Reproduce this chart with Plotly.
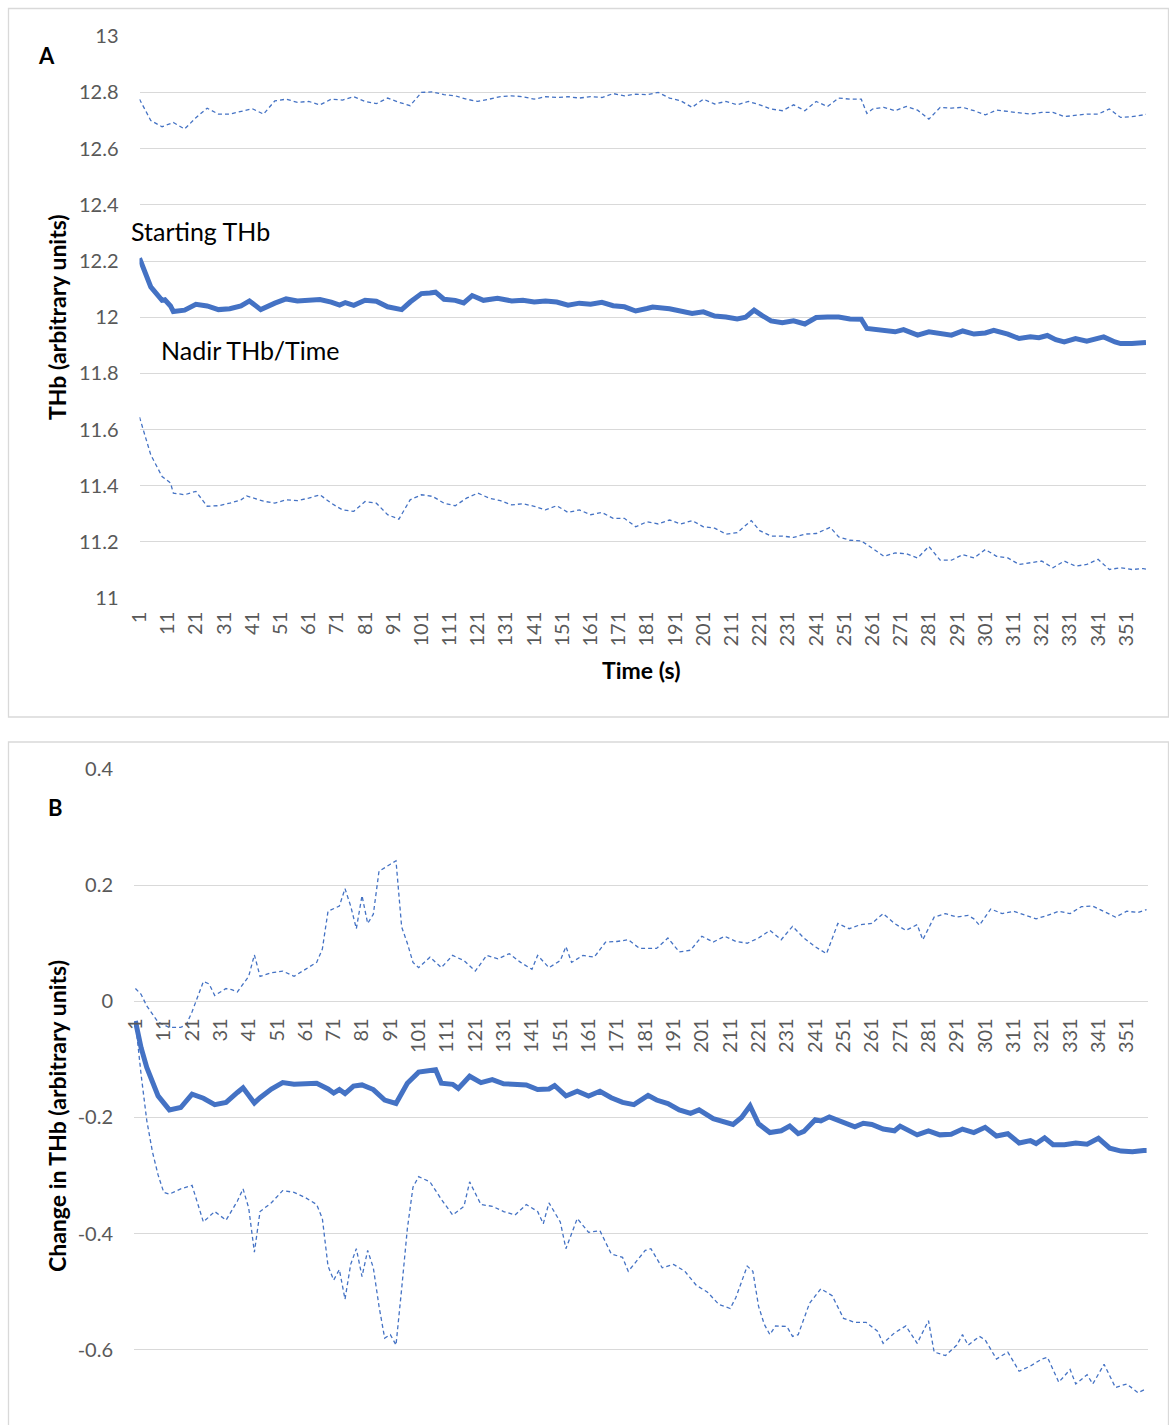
import plotly.graph_objects as go

W, H = 1169, 1425
FONT = "Lato"
BLUE = "#4472C4"
GRID = "#D9D9D9"
TICKC = "#595959"

# ---------------- data (time in s, value) ----------------
A_MAIN = [(1,12.21),(5,12.108),(9,12.06),(10,12.062),(12,12.04),(13,12.02),(17,12.025),(21,12.046),(25,12.04),(29,12.027),
          (33,12.03),(37,12.04),(40,12.058),(44,12.027),(49,12.05),(53,12.065),(57,12.058),(61,12.06),(65,12.063),(69,12.054),
          (72,12.043),(74,12.052),(77,12.042),(81,12.06),(85,12.057),(89,12.037),(94,12.027),(97,12.054),(101,12.084),(104,12.086),
          (106,12.089),(109,12.064),(113,12.06),(116,12.051),(119,12.077),(123,12.06),(128,12.067),(133,12.058),(137,12.06),(141,12.054),
          (145,12.058),(149,12.054),(153,12.043),(157,12.05),(161,12.046),(165,12.053),(169,12.041),(173,12.037),(177,12.022),(181,12.031),
          (183,12.036),(189,12.03),(193,12.021),(197,12.013),(201,12.019),(205,12.004),(209,12.001),(213,11.994),(216,12.0),(219,12.025),
          (222,12.005),(225,11.987),(229,11.98),(233,11.987),(237,11.976),(241,11.999),(245,12.001),(249,12.001),(253,11.994),(257,11.993),
          (259,11.96),(261,11.957),(265,11.951),(269,11.948),(272,11.956),(277,11.936),(281,11.948),(285,11.94),(289,11.936),(293,11.951),
          (297,11.94),(301,11.944),(304,11.953),(309,11.94),(313,11.924),(317,11.93),(320,11.927),(323,11.935),(326,11.92),(329,11.912),
          (333,11.924),(337,11.915),(341,11.924),(343,11.93),(347,11.912),(349,11.906),(353,11.906),(357,11.909),(358,11.91)]

A_UPPER = [(1,12.776),(5,12.7),(9,12.678),(13,12.693),(17,12.67),(21,12.71),(25,12.744),(29,12.723),(33,12.723),(37,12.733),
           (41,12.742),(45,12.723),(49,12.77),(53,12.776),(57,12.765),(61,12.768),(65,12.756),(69,12.776),(73,12.773),(77,12.785),
           (81,12.768),(85,12.76),(89,12.78),(93,12.765),(97,12.753),(101,12.8),(105,12.802),(109,12.792),(113,12.788),(117,12.776),
           (121,12.768),(125,12.776),(129,12.785),(133,12.788),(137,12.785),(141,12.776),(145,12.785),(149,12.782),(153,12.785),(157,12.78),
           (161,12.785),(165,12.782),(169,12.796),(173,12.788),(177,12.794),(181,12.792),(185,12.8),(189,12.78),(193,12.77),(197,12.747),
           (201,12.776),(205,12.759),(209,12.768),(213,12.756),(217,12.768),(221,12.756),(225,12.741),(229,12.735),(233,12.756),(237,12.735),
           (241,12.768),(245,12.75),(249,12.78),(253,12.776),(257,12.776),(259,12.725),(261,12.741),(265,12.747),(269,12.735),(273,12.75),
           (277,12.737),(281,12.705),(285,12.747),(289,12.744),(293,12.747),(297,12.735),(301,12.72),(305,12.737),(309,12.733),(313,12.729),
           (317,12.723),(321,12.729),(325,12.729),(329,12.714),(333,12.718),(337,12.723),(341,12.723),(345,12.741),(349,12.711),(353,12.714),
           (357,12.72),(358,12.722)]

A_LOWER = [(1,11.644),(5,11.51),(9,11.433),(12,11.41),(13,11.374),(17,11.368),(21,11.38),(25,11.327),(29,11.329),(33,11.338),
           (37,11.35),(39,11.364),(45,11.345),(49,11.338),(53,11.35),(57,11.347),(61,11.356),(65,11.368),(69,11.338),(73,11.314),
           (77,11.309),(81,11.344),(85,11.338),(89,11.297),(93,11.281),(97,11.35),(101,11.368),(105,11.362),(109,11.338),(113,11.329),
           (117,11.356),(121,11.374),(125,11.356),(129,11.347),(133,11.332),(137,11.336),(141,11.327),(145,11.314),(149,11.329),(153,11.305),
           (157,11.314),(161,11.297),(165,11.305),(169,11.284),(173,11.284),(177,11.254),(181,11.272),(185,11.264),(189,11.278),(193,11.264),
           (197,11.276),(201,11.254),(205,11.249),(209,11.228),(213,11.233),(218,11.276),(221,11.24),(225,11.221),(229,11.221),(233,11.216),
           (237,11.228),(241,11.23),(246,11.252),(249,11.218),(253,11.206),(257,11.204),(261,11.177),(265,11.149),(269,11.161),(273,11.158),
           (277,11.143),(281,11.184),(285,11.135),(289,11.135),(293,11.155),(297,11.143),(301,11.173),(305,11.149),(309,11.143),(313,11.12),
           (317,11.126),(321,11.132),(325,11.108),(329,11.132),(333,11.114),(337,11.12),(341,11.138),(345,11.102),(349,11.108),(353,11.102),
           (357,11.105),(358,11.103)]

B_MAIN = [(1,-0.034),(3,-0.08),(5,-0.114),(9,-0.163),(13,-0.187),(17,-0.183),(21,-0.16),(25,-0.167),(29,-0.178),(33,-0.174),
          (37,-0.157),(39,-0.149),(43,-0.175),(45,-0.166),(49,-0.151),(53,-0.14),(57,-0.143),(61,-0.143),(65,-0.141),(69,-0.151),
          (71,-0.158),(73,-0.152),(75,-0.159),(78,-0.146),(81,-0.144),(85,-0.152),(89,-0.17),(93,-0.176),(97,-0.141),(101,-0.122),
          (105,-0.119),(107,-0.118),(109,-0.141),(113,-0.143),(115,-0.15),(119,-0.129),(123,-0.14),(127,-0.135),(131,-0.142),(135,-0.143),
          (139,-0.144),(143,-0.152),(147,-0.151),(149,-0.145),(153,-0.163),(157,-0.155),(161,-0.163),(165,-0.155),(169,-0.166),(173,-0.174),
          (177,-0.178),(182,-0.162),(185,-0.17),(189,-0.176),(193,-0.187),(197,-0.193),(200,-0.187),(205,-0.202),(209,-0.208),(212,-0.212),
          (215,-0.2),(218,-0.18),(221,-0.211),(225,-0.226),(229,-0.223),(232,-0.215),(235,-0.228),(237,-0.224),(241,-0.204),(243,-0.206),
          (246,-0.199),(249,-0.205),(253,-0.212),(255,-0.216),(258,-0.21),(261,-0.212),(265,-0.22),(269,-0.223),(271,-0.215),(273,-0.22),
          (277,-0.23),(281,-0.223),(285,-0.23),(289,-0.229),(293,-0.22),(297,-0.226),(301,-0.217),(305,-0.232),(309,-0.228),(313,-0.244),
          (317,-0.24),(319,-0.245),(322,-0.235),(325,-0.247),(329,-0.247),(333,-0.244),(337,-0.246),(341,-0.236),(345,-0.253),(349,-0.258),
          (353,-0.259),(357,-0.257),(358,-0.257)]

B_UPPER = [(1,0.022),(3,0.012),(5,-0.008),(9,-0.036),(13,-0.045),(17,-0.045),(19,-0.04),(21,-0.018),(25,0.034),(27,0.03),
           (29,0.01),(33,0.022),(35,0.02),(37,0.016),(41,0.043),(43,0.08),(45,0.043),(49,0.049),(53,0.052),(57,0.043),
           (61,0.055),(65,0.067),(67,0.09),(69,0.155),(73,0.164),(75,0.194),(77,0.164),(79,0.125),(81,0.182),(83,0.134),
           (85,0.15),(87,0.224),(91,0.236),(93,0.242),(95,0.128),(97,0.1),(99,0.067),(101,0.058),(105,0.076),(109,0.058),
           (113,0.079),(117,0.07),(121,0.052),(125,0.079),(129,0.073),(133,0.082),(137,0.067),(141,0.055),(143,0.079),(147,0.058),
           (151,0.07),(153,0.094),(155,0.067),(159,0.079),(163,0.076),(167,0.102),(171,0.103),(175,0.106),(179,0.091),(181,0.091),
           (185,0.091),(189,0.109),(193,0.085),(197,0.088),(201,0.112),(205,0.102),(209,0.112),(213,0.103),(217,0.1),(221,0.109),
           (225,0.122),(229,0.106),(233,0.129),(237,0.109),(241,0.094),(245,0.082),(249,0.134),(253,0.125),(257,0.132),(261,0.134),
           (265,0.151),(269,0.134),(273,0.122),(277,0.132),(279,0.106),(283,0.145),(287,0.151),(291,0.145),(295,0.148),(297,0.142),
           (299,0.131),(303,0.159),(307,0.151),(311,0.155),(315,0.148),(319,0.142),(323,0.148),(327,0.155),(331,0.151),(335,0.163),
           (339,0.164),(343,0.155),(347,0.145),(351,0.155),(355,0.153),(358,0.158)]

B_LOWER = [(1,-0.034),(3,-0.126),(5,-0.205),(7,-0.259),(9,-0.299),(11,-0.329),(13,-0.332),(17,-0.323),(21,-0.317),(23,-0.35),
           (25,-0.38),(29,-0.362),(33,-0.377),(37,-0.344),(39,-0.323),(41,-0.356),(43,-0.432),(45,-0.362),(49,-0.347),(53,-0.326),
           (57,-0.329),(61,-0.338),(65,-0.35),(67,-0.374),(69,-0.456),(71,-0.48),(73,-0.462),(75,-0.513),(77,-0.453),(79,-0.426),
           (81,-0.474),(83,-0.429),(85,-0.459),(87,-0.525),(89,-0.58),(91,-0.574),(93,-0.592),(95,-0.495),(97,-0.392),(99,-0.32),
           (101,-0.302),(105,-0.311),(109,-0.341),(113,-0.368),(117,-0.353),(119,-0.311),(123,-0.35),(127,-0.353),(131,-0.362),(135,-0.368),
           (139,-0.35),(143,-0.362),(145,-0.383),(147,-0.347),(151,-0.38),(153,-0.426),(157,-0.374),(161,-0.398),(165,-0.395),(169,-0.435),
           (173,-0.441),(175,-0.465),(179,-0.441),(181,-0.429),(183,-0.426),(187,-0.459),(191,-0.453),(195,-0.465),(199,-0.489),(203,-0.501),
           (207,-0.522),(211,-0.529),(213,-0.51),(217,-0.456),(219,-0.465),(221,-0.525),(223,-0.556),(225,-0.574),(227,-0.559),(231,-0.56),
           (233,-0.577),(235,-0.574),(239,-0.52),(243,-0.495),(247,-0.507),(251,-0.546),(255,-0.553),(259,-0.553),(263,-0.568),(265,-0.589),
           (269,-0.571),(273,-0.559),(277,-0.589),(281,-0.55),(283,-0.604),(287,-0.61),(291,-0.592),(293,-0.574),(295,-0.592),(299,-0.577),
           (301,-0.583),(305,-0.616),(309,-0.604),(313,-0.637),(317,-0.628),(321,-0.616),(323,-0.613),(327,-0.656),(331,-0.634),(333,-0.659),
           (337,-0.643),(339,-0.659),(343,-0.625),(347,-0.665),(351,-0.659),(355,-0.674),(358,-0.667)]

X_TICKS = list(range(1, 352, 10))
A_YTICKS = [11, 11.2, 11.4, 11.6, 11.8, 12, 12.2, 12.4, 12.6, 12.8, 13]
B_YTICKS = [-0.6, -0.4, -0.2, 0, 0.2, 0.4]

# ---------------- helpers ----------------
def px(x):
    return x / W

def py(y):
    return 1 - y / H

def xs(d):
    return [p[0] for p in d]

def ys(d):
    return [p[1] for p in d]

fig = go.Figure()

dash_style = dict(color=BLUE, width=1.3, dash="4px,3px")
main_style = dict(color=BLUE, width=5)

fig.add_trace(go.Scatter(x=xs(A_UPPER), y=ys(A_UPPER), mode="lines", line=dash_style, xaxis="x", yaxis="y"))
fig.add_trace(go.Scatter(x=xs(A_LOWER), y=ys(A_LOWER), mode="lines", line=dash_style, xaxis="x", yaxis="y"))
fig.add_trace(go.Scatter(x=xs(A_MAIN), y=ys(A_MAIN), mode="lines", line=main_style, xaxis="x", yaxis="y"))
fig.add_trace(go.Scatter(x=xs(B_UPPER), y=ys(B_UPPER), mode="lines", line=dash_style, xaxis="x2", yaxis="y2"))
fig.add_trace(go.Scatter(x=xs(B_LOWER), y=ys(B_LOWER), mode="lines", line=dash_style, xaxis="x2", yaxis="y2"))
fig.add_trace(go.Scatter(x=xs(B_MAIN), y=ys(B_MAIN), mode="lines", line=main_style, xaxis="x2", yaxis="y2"))

tickfont = dict(family=FONT, size=20, color=TICKC)

# panel A geometry
A_top, A_bot = 35.7, 598.7
A_range = [10.998, 13.002]
# panel B geometry
B_top, B_bot = 769.0, 1420.0
B_range = [-0.721, 0.4]
B_dom = [py(B_bot), py(B_top)]
zero_pos = B_dom[0] + (0 - B_range[0]) / (B_range[1] - B_range[0]) * (B_dom[1] - B_dom[0])

def fmt(v):
    return f"{v:g}"

common_x = dict(tickmode="array", tickvals=X_TICKS, ticktext=[str(v) for v in X_TICKS],
                tickangle=-90, tickfont=tickfont, showgrid=False, zeroline=False, showline=False,
                ticks="", automargin=False, fixedrange=True)
common_y = dict(tickfont=tickfont, showgrid=True, gridcolor=GRID, gridwidth=1.4,
                zeroline=False, showline=False, ticks="", ticklabelstandoff=20,
                automargin=False, fixedrange=True, tickmode="array")

fig.update_layout(
    template="none",
    width=W, height=H, autosize=False,
    margin=dict(l=0, r=0, t=0, b=0, pad=0, autoexpand=False),
    paper_bgcolor="white", plot_bgcolor="white",
    showlegend=False,
    hovermode=False,
    font=dict(family=FONT),
    xaxis=dict(domain=[px(139.5), px(1146)], range=[1, 358], anchor="y", ticklabelstandoff=8, **common_x),
    yaxis=dict(domain=[py(A_bot), py(A_top)], range=A_range, anchor="x",
               tickvals=A_YTICKS, ticktext=[fmt(v) for v in A_YTICKS], **common_y),
    xaxis2=dict(domain=[px(134), px(1148)], range=[0.5, 358.5], anchor="free", position=zero_pos,
                ticklabelstandoff=12, **common_x),
    yaxis2=dict(domain=B_dom, range=B_range, anchor="x2",
                tickvals=B_YTICKS, ticktext=[fmt(v) for v in B_YTICKS], **common_y),
)

# panel frames
fig.add_shape(type="rect", xref="paper", yref="paper", x0=px(8.5), x1=px(1168.5), y0=py(717), y1=py(8.5),
              line=dict(color=GRID, width=1.3), fillcolor="rgba(0,0,0,0)", layer="below")
fig.add_shape(type="rect", xref="paper", yref="paper", x0=px(8.5), x1=px(1168.5), y0=py(1432), y1=py(742),
              line=dict(color=GRID, width=1.3), fillcolor="rgba(0,0,0,0)", layer="below")

def ann(text, x, y, size, bold=False, angle=0, xanchor="center", color="black"):
    fig.add_annotation(text=f"<b>{text}</b>" if bold else text, x=px(x), y=py(y), xref="paper", yref="paper",
                       showarrow=False, textangle=angle, xanchor=xanchor, yanchor="middle",
                       font=dict(family=FONT, size=size, color=color))

ann("A", 46, 56, 22, bold=True)
ann("B", 55, 807, 22, bold=True)
ann("THb (arbitrary units)", 57, 317, 23, bold=True, angle=-90)
ann("Change in THb (arbitrary units)", 57, 1116, 23, bold=True, angle=-90)
ann("Time (s)", 641, 670, 23, bold=True)
ann("Starting THb", 129, 231, 25, xanchor="left")
ann("Nadir THb/Time", 159, 350, 25, xanchor="left")

fig.write_html("out.html",
               config={"displayModeBar": False, "responsive": False},
               post_script="document.body.style.margin='0';document.body.style.padding='0';"
                           "document.documentElement.style.overflow='hidden';")
